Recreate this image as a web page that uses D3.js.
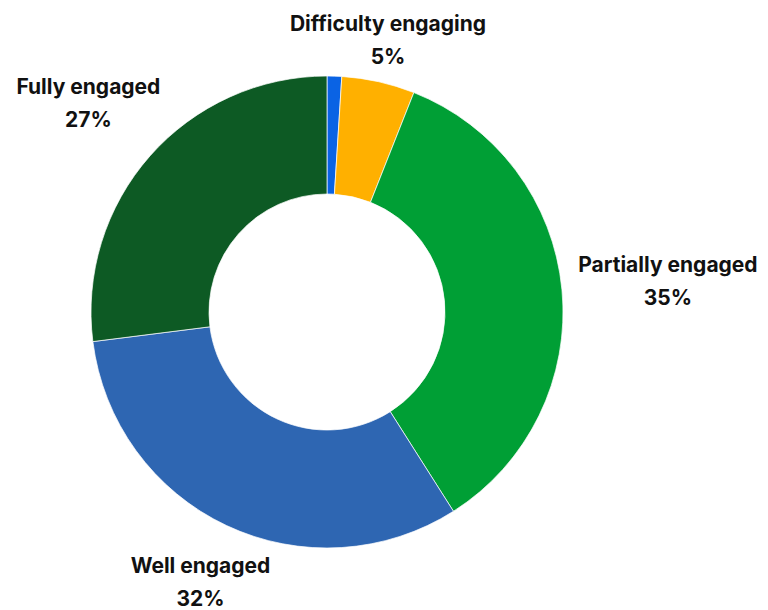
<!DOCTYPE html>
<html>
<head>
<meta charset="utf-8">
<script src="https://cdn.jsdelivr.net/npm/d3@7"></script>
<style>
  html, body { margin: 0; padding: 0; background: #fff; }
  text { font-family: "Inter", "Lato", sans-serif; font-weight: 700; fill: #111; }
</style>
</head>
<body>
<svg id="chart" width="768" height="610"></svg>
<script>
// Engagement shares, in drawing order clockwise from 12 o'clock
const categories = ["Not engaged", "Difficulty engaging", "Partially engaged", "Well engaged", "Fully engaged"];
const values = [1, 5, 35, 32, 27];
const colors = ["#0a63e4", "#ffb000", "#009f35", "#2e66b2", "#0d5a24"];
const showLabel = [false, true, true, true, true];
// distance of each label's centre from the donut centre, as a multiple of the outer radius
const labelRadius = [1.2, 1.185, 1.451, 1.259, 1.348];

const width = 768, height = 610;
const cx = 327, cy = 312;
const outerR = 236, innerR = 118;

const svg = d3.select("#chart");
const g = svg.append("g").attr("transform", `translate(${cx},${cy})`);

const pie = d3.pie().value(d => d.value).sort(null);
const data = pie(categories.map((c, i) => ({ name: c, value: values[i], color: colors[i], show: showLabel[i], lr: labelRadius[i] })));

const arc = d3.arc().innerRadius(innerR).outerRadius(outerR);

g.selectAll("path.slice")
  .data(data)
  .join("path")
  .attr("class", "slice")
  .attr("d", arc)
  .attr("fill", d => d.data.color)
  .attr("stroke", "#fff")
  .attr("stroke-width", 0.7);

const total = d3.sum(values);
const fmt = d => Math.round(d / total * 100) + "%";

const labels = g.selectAll("g.label")
  .data(data.filter(d => d.data.show))
  .join("g")
  .attr("class", "label")
  .attr("transform", d => {
    const a = (d.startAngle + d.endAngle) / 2;
    const r = outerR * d.data.lr;
    return `translate(${Math.sin(a) * r},${-Math.cos(a) * r})`;
  });

labels.append("text")
  .attr("text-anchor", "middle")
  .attr("y", -8)
  .attr("font-size", 21)
  .text(d => d.data.name);

labels.append("text")
  .attr("text-anchor", "middle")
  .attr("y", 25)
  .attr("font-size", 21)
  .text(d => fmt(d.data.value));
</script>
</body>
</html>
